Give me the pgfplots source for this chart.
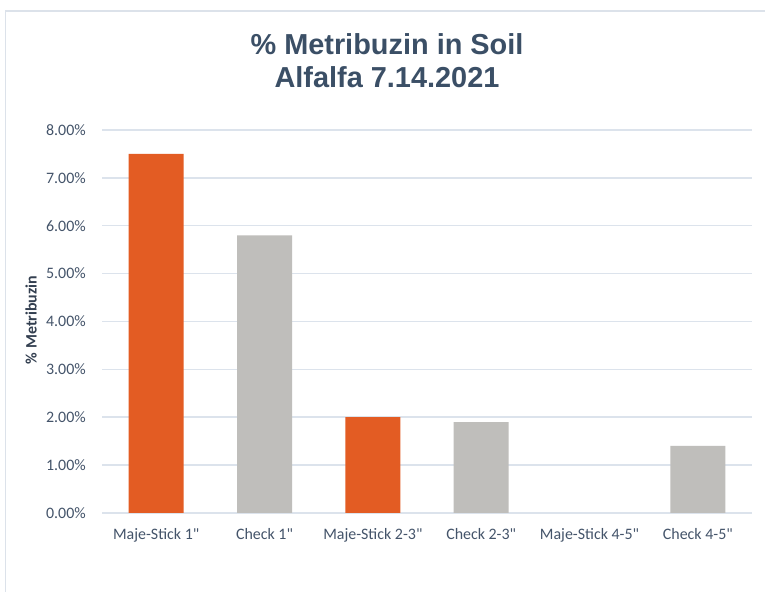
\documentclass[border=0pt]{standalone}
\usepackage{pgfplots}
\pgfplotsset{compat=1.18}
\usepackage{fontspec}
\setmainfont{Carlito}[Ligatures=TeXOff]
\newfontfamily\titlefont{Liberation Sans}
\definecolor{barorange}{HTML}{E35C23}
\definecolor{bargray}{HTML}{BFBEBB}
\definecolor{gridc}{HTML}{DCE3EC}
\definecolor{framec}{HTML}{DCE2EA}
\definecolor{tickc}{HTML}{44546A}
\definecolor{titlec}{HTML}{3B4F66}
\definecolor{labc}{HTML}{333F50}
\begin{document}
\begin{tikzpicture}[x=1bp,y=1bp]
\useasboundingbox (0,0) rectangle (765,592);
\fill[white] (0,0) rectangle (765,592);
\draw[framec, line width=1.5bp] (5.5,-5) -- (5.5,581) -- (780,581);
\node[font=\titlefont\bfseries\fontsize{29}{33}\selectfont, text=titlec, align=center] at (387,531) {\% Metribuzin in Soil\\Alfalfa 7.14.2021};
\node[font=\bfseries\fontsize{16}{19}\selectfont, text=labc, rotate=90] at (31,272) {\% Metribuzin};
\begin{axis}[
  at={(102bp,79bp)}, anchor=south west,
  scale only axis, width=650bp, height=383bp,
  xmin=-0.5, xmax=5.5, ymin=0, ymax=8,
  axis line style={draw=none},
  ybar, bar width=55bp,
  xtick={0,1,2,3,4,5},
  xticklabels={{Maje-Stick 1"},{Check 1"},{Maje-Stick 2-3"},{Check 2-3"},{Maje-Stick 4-5"},{Check 4-5"}},
  ytick={0,1,2,3,4,5,6,7,8},
  yticklabels={0.00\%,1.00\%,2.00\%,3.00\%,4.00\%,5.00\%,6.00\%,7.00\%,8.00\%},
  major tick length=0pt,
  ymajorgrids, grid style={gridc, line width=1.5bp},
  ticklabel style={font=\fontsize{16}{19}\selectfont, text=tickc},
  yticklabel style={inner sep=0pt, xshift=-16bp},
  xticklabel style={inner sep=0pt, yshift=-15bp},
  clip=false,
]
\addplot[fill=barorange, draw=none, bar shift=0pt] coordinates {(0,7.5) (2,2.0)};
\addplot[fill=bargray, draw=none, bar shift=0pt] coordinates {(1,5.8) (3,1.9) (5,1.4)};
\end{axis}
\end{tikzpicture}
\end{document}
